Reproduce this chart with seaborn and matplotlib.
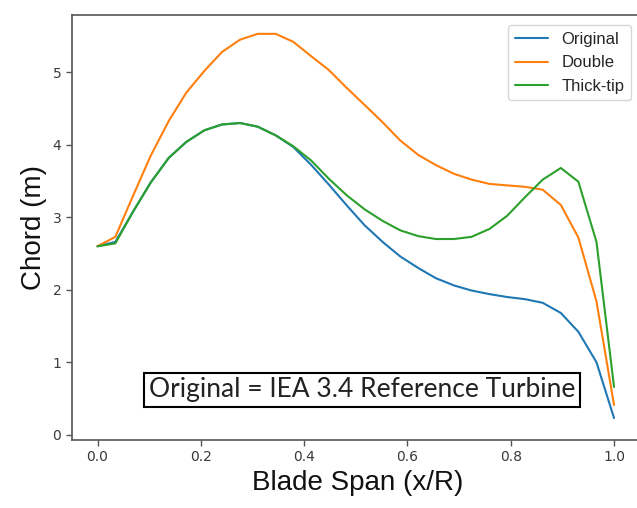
import matplotlib
matplotlib.use("Agg")
import matplotlib.pyplot as plt
import seaborn as sns
import pandas as pd

span = [0.000, 0.0345, 0.069, 0.103, 0.138, 0.172, 0.207, 0.241, 0.276, 0.310,
        0.345, 0.379, 0.414, 0.448, 0.483, 0.517, 0.552, 0.586, 0.621, 0.655,
        0.690, 0.724, 0.759, 0.793, 0.828, 0.862, 0.897, 0.931, 0.966, 1.000]

original = [2.60, 2.66, 3.08, 3.48, 3.82, 4.04, 4.20, 4.28, 4.30, 4.25,
            4.13, 3.97, 3.72, 3.45, 3.16, 2.89, 2.66, 2.46, 2.30, 2.16,
            2.06, 1.99, 1.94, 1.90, 1.87, 1.82, 1.68, 1.42, 1.00, 0.23]

double = [2.60, 2.73, 3.30, 3.85, 4.33, 4.72, 5.02, 5.28, 5.45, 5.53,
          5.53, 5.42, 5.22, 5.03, 4.78, 4.55, 4.31, 4.06, 3.86, 3.72,
          3.60, 3.52, 3.46, 3.44, 3.42, 3.38, 3.17, 2.72, 1.84, 0.41]

thick_tip = [2.60, 2.64, 3.08, 3.48, 3.82, 4.04, 4.20, 4.28, 4.30, 4.25,
             4.13, 3.98, 3.78, 3.53, 3.30, 3.11, 2.95, 2.82, 2.74, 2.70,
             2.70, 2.73, 2.84, 3.02, 3.28, 3.52, 3.68, 3.49, 2.66, 0.66]

series_names = ["Original", "Double", "Thick-tip"]
x_ticks = [0.0, 0.2, 0.4, 0.6, 0.8, 1.0]
y_ticks = [0, 1, 2, 3, 4, 5]

df = pd.concat([
    pd.DataFrame({"span": span, "chord": vals, "design": name})
    for name, vals in zip(series_names, [original, double, thick_tip])
])

sns.set_style("ticks")
plt.rcParams["font.family"] = ["DejaVu Sans"]

fig = plt.figure(figsize=(6.37, 5.08), dpi=100)
ax = fig.add_axes([71.7 / 637, 1 - 440 / 508, (644 - 71.7) / 637, (440 - 15) / 508])

palette = ["#1f77b4", "#ff7f0e", "#2ca02c"]
sns.lineplot(data=df, x="span", y="chord", hue="design", hue_order=series_names,
             palette=palette, linewidth=1.5, ax=ax, sort=False)

ax.set_xlim(-0.05, 1.058)
ax.set_ylim(-0.072, 5.79)
ax.set_xticks(x_ticks)
ax.set_xticklabels([f"{t:.1f}" for t in x_ticks])
ax.set_yticks(y_ticks)
ax.tick_params(axis="both", labelsize=10, colors="#555555", labelcolor="#3a3a3a",
               length=4, width=1)
for sp in ax.spines.values():
    sp.set_color("#555555")
    sp.set_linewidth(1.2)

ax.set_xlabel("Blade Span (x/R)", fontsize=20, family="Liberation Sans", color="#111111")
ax.set_ylabel("Chord (m)", fontsize=20, family="Liberation Sans", color="#111111")

leg = ax.legend(loc="upper right", prop={"family": "Liberation Sans", "size": 12},
                frameon=True, bbox_to_anchor=(0.992, 0.995))
leg.get_frame().set_edgecolor("#cccccc")
leg.get_frame().set_linewidth(1.0)

ax.text(0.512, 0.62, "Original = IEA 3.4 Reference Turbine", family="Lato",
        fontsize=19, color="#222222", ha="center", va="center",
        bbox=dict(boxstyle="square,pad=0.18", facecolor="white", edgecolor="black",
                  linewidth=1.5))

fig.savefig("out.png", dpi=100)
